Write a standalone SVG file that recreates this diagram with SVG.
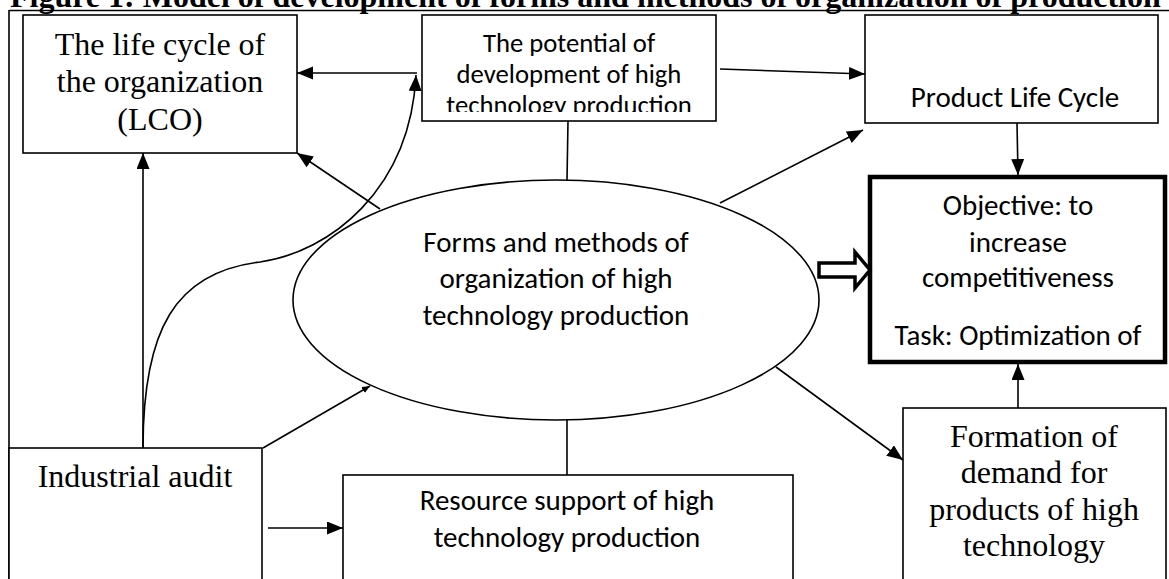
<svg xmlns="http://www.w3.org/2000/svg" width="1169" height="579" viewBox="0 0 1169 579">
<style>
.box{fill:#fff;stroke:#000;stroke-width:1.6}
.thick{fill:#fff;stroke:#000;stroke-width:4.5}
.ln{fill:none;stroke:#000;stroke-width:1.6}
.tr{font-family:"Liberation Serif","Times New Roman",serif;font-size:32px;fill:#000;text-anchor:middle}
.ca{font-family:Carlito,Lato,sans-serif;font-size:29px;fill:#000;text-anchor:middle}
.ca2{font-family:Carlito,Lato,sans-serif;font-size:26.7px;fill:#000;text-anchor:middle}
.title{font-family:"Liberation Serif","Times New Roman",serif;font-size:32px;font-weight:bold;fill:#000}
</style>
<defs>
<marker id="ah" markerUnits="userSpaceOnUse" markerWidth="18" markerHeight="14" refX="16" refY="6.5" orient="auto">
<path d="M0,0 L16,6.5 L0,13 z" fill="#000"/>
</marker>
<marker id="ahs" markerUnits="userSpaceOnUse" markerWidth="10" markerHeight="8" refX="8" refY="3.5" orient="auto">
<path d="M0,0 L8,3.5 L0,7 z" fill="#000"/>
</marker>
<clipPath id="clipPot"><rect x="422" y="15" width="294" height="97"/></clipPath>
</defs>
<text class="title" x="10" y="7">Figure 1: Model of development of forms and methods of organization of production</text>
<g id="frame">
<path class="ln" d="M9,10.5 H1169 M9,10 V579"/>
</g>
<g id="lco">
<rect class="box" x="23" y="15" width="274" height="138"/>
<text class="tr" x="160" y="55">The life cycle of</text>
<text class="tr" x="160" y="92">the organization</text>
<text class="tr" x="160" y="130">(LCO)</text>
</g>
<g id="potential">
<rect class="box" x="422" y="15" width="294" height="106"/>
<g clip-path="url(#clipPot)">
<text class="ca2" x="569" y="52">The potential of</text>
<text class="ca2" x="569" y="83">development of high</text>
<text class="ca2" x="569" y="114">technology production</text>
</g>
</g>
<g id="plc">
<rect class="box" x="865" y="15" width="293" height="108"/>
<text class="ca" x="1015" y="107">Product Life Cycle</text>
</g>
<g id="forms">
<ellipse class="box" cx="556" cy="300" rx="263" ry="120"/>
<text class="ca" x="556" y="252">Forms and methods of</text>
<text class="ca" x="556" y="288">organization of high</text>
<text class="ca" x="556" y="325">technology production</text>
</g>
<g id="objective">
<rect class="thick" x="870" y="177" width="295" height="185"/>
<text class="ca" x="1018" y="215">Objective: to</text>
<text class="ca" x="1018" y="252">increase</text>
<text class="ca" x="1018" y="287">competitiveness</text>
<text class="ca" x="1018" y="345">Task: Optimization of</text>
</g>
<g id="audit">
<rect class="box" x="9" y="448" width="253" height="150"/>
<text class="tr" x="135" y="487">Industrial audit</text>
</g>
<g id="resource">
<rect class="box" x="343" y="475" width="450" height="120"/>
<text class="ca" x="567" y="510">Resource support of high</text>
<text class="ca" x="567" y="547">technology production</text>
</g>
<g id="formation">
<rect class="box" x="903" y="408" width="263" height="200"/>
<text class="tr" x="1034" y="447">Formation of</text>
<text class="tr" x="1034" y="483">demand for</text>
<text class="tr" x="1034" y="520">products of high</text>
<text class="tr" x="1034" y="556">technology</text>
</g>
<g id="connectors">
<path class="ln" d="M417,73 L297,73" marker-end="url(#ah)"/>
<path class="ln" d="M143,448 C143,330 175,272 260,262 C330,252 410,190 416,75" marker-end="url(#ah)"/>
<path class="ln" d="M720,69 L865,74" marker-end="url(#ah)"/>
<path class="ln" d="M568,121 L567,180"/>
<path class="ln" d="M380,209 L297,153" marker-end="url(#ah)"/>
<path class="ln" d="M720,203 L863,130" marker-end="url(#ah)"/>
<path class="ln" d="M1017,123 L1018,175" marker-end="url(#ah)"/>
<path class="ln" d="M1018,408 L1018,364" marker-end="url(#ah)"/>
<path class="ln" d="M776,367 L903,460" marker-end="url(#ah)"/>
<path class="ln" d="M263,448 L370,386" marker-end="url(#ahs)"/>
<path class="ln" d="M143,448 L143,153" marker-end="url(#ah)"/>
<path class="ln" d="M268,528 L343,528" marker-end="url(#ah)"/>
<path class="ln" d="M567,420 L567,475"/>
<polygon points="819,263 855,263 855,252 870,270 855,288 855,277 819,277" fill="#fff" stroke="#000" stroke-width="3.5"/>
</g>
</svg>
